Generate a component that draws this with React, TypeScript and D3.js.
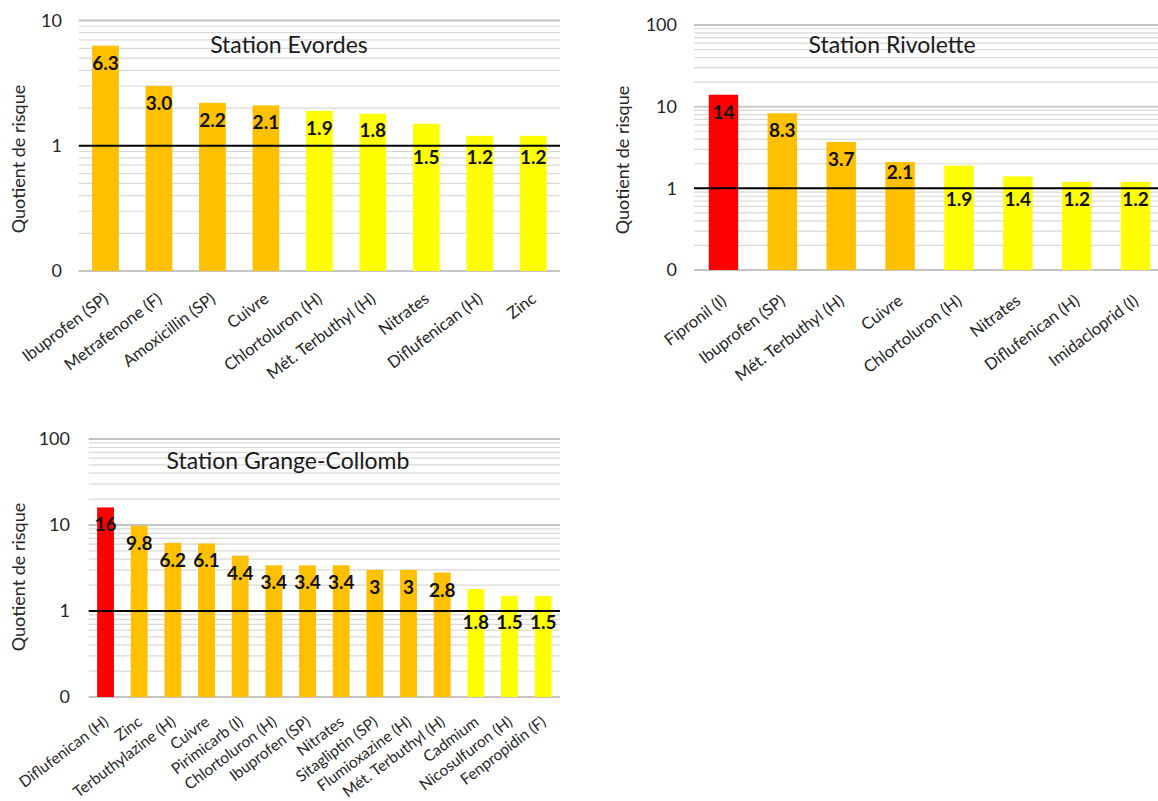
import React from 'react';
import * as d3 from 'd3';

// Station Evordes
const evordesCategories = [
  'Ibuprofen (SP)', 'Metrafenone (F)', 'Amoxicillin (SP)', 'Cuivre', 'Chlortoluron (H)',
  'Mét. Terbuthyl (H)', 'Nitrates', 'Diflufenican (H)', 'Zinc',
];
const evordesValues = [6.3, 3.0, 2.2, 2.1, 1.9, 1.8, 1.5, 1.2, 1.2];

// Station Rivolette
const rivoletteCategories = [
  'Fipronil (I)', 'Ibuprofen (SP)', 'Mét. Terbuthyl (H)', 'Cuivre', 'Chlortoluron (H)',
  'Nitrates', 'Diflufenican (H)', 'Imidacloprid (I)',
];
const rivoletteValues = [14, 8.3, 3.7, 2.1, 1.9, 1.4, 1.2, 1.2];

// Station Grange-Collomb
const grangeCategories = [
  'Diflufenican (H)', 'Zinc', 'Terbuthylazine (H)', 'Cuivre', 'Pirimicarb (I)', 'Chlortoluron (H)',
  'Ibuprofen (SP)', 'Nitrates', 'Sitagliptin (SP)', 'Flumioxazine (H)', 'Mét. Terbuthyl (H)',
  'Cadmium', 'Nicosulfuron (H)', 'Fenpropidin (F)',
];
const grangeValues = [16, 9.8, 6.2, 6.1, 4.4, 3.4, 3.4, 3.4, 3, 3, 2.8, 1.8, 1.5, 1.5];

// Axis decades; the lowest one is printed as "0"
const decadeTicks = [0.1, 1, 10, 100];
const tickText = (v: number) => (v < 1 ? '0' : String(v));
const axisTitle = 'Quotient de risque';

// Risk classes: < 2 yellow, 2–10 orange, >= 10 red
const riskColor = d3
  .scaleThreshold<number, string>()
  .domain([2, 10])
  .range(['#FFFF00', '#FFC000', '#FF0000']);

const FONT = 'Lato, "Open Sans", sans-serif';
const VALUE_SIZE = 19;
const VALUE_HEIGHT = 14;
const LABEL_ANGLE = -37;
const TEXT_COLOR = '#262626';

type PanelProps = {
  title: string;
  categories: string[];
  values: number[];
  fmt: (v: number) => string;
  yMax: number;
  x0: number;
  x1: number;
  yBottom: number;
  yTop: number;
  titleX: number;
  titleY: number;
  axisTitleX: number;
  axisTitleY: number;
  tickRightX: number;
  labelGap: number;
  labelSize: number;
};

function Panel(p: PanelProps) {
  const x = d3.scaleBand<string>().domain(p.categories).range([p.x0, p.x1]).paddingInner(0.5).paddingOuter(0.25);
  const y = d3.scaleLog().domain([0.1, p.yMax]).range([p.yBottom, p.yTop]);

  const decades = decadeTicks.filter((d) => d <= p.yMax);
  const minor: number[] = [];
  decades.slice(0, -1).forEach((d) => {
    for (let k = 2; k <= 9; k++) minor.push(k * d);
  });
  const majors = decades.filter((d) => d !== 0.1 && d !== 1);
  const yOne = y(1);

  // Value label baseline: inside the bar end, kept clear of the threshold line at 1
  const valueBaseline = (v: number) => {
    const top = y(v);
    const natural = top + 24;
    const limit = yOne - 9;
    if (natural <= limit) return natural;
    if (limit - VALUE_HEIGHT >= top) return limit;
    return yOne + 18;
  };

  return (
    <g>
      {minor.map((v) => (
        <line key={'m' + v} x1={p.x0} x2={p.x1} y1={y(v)} y2={y(v)} stroke="#d9d9d9" strokeWidth={1.2} />
      ))}
      {majors.map((v) => (
        <line key={'M' + v} x1={p.x0} x2={p.x1} y1={y(v)} y2={y(v)} stroke="#c4c4c4" strokeWidth={1.8} />
      ))}
      <line x1={p.x0} x2={p.x1} y1={y(0.1)} y2={y(0.1)} stroke="#c4c4c4" strokeWidth={2} />

      {p.categories.map((c, i) => (
        <rect
          key={'b' + i}
          x={x(c)}
          y={y(p.values[i])}
          width={x.bandwidth()}
          height={y(0.1) - y(p.values[i])}
          fill={riskColor(p.values[i])}
        />
      ))}

      <line x1={p.x0} x2={p.x1} y1={yOne} y2={yOne} stroke="#000" strokeWidth={2} />

      {p.categories.map((c, i) => (
        <text
          key={'v' + i}
          x={(x(c) as number) + x.bandwidth() / 2}
          y={valueBaseline(p.values[i])}
          textAnchor="middle"
          fontFamily={FONT}
          fontWeight={700}
          fontSize={VALUE_SIZE}
          fill="#111"
        >
          {p.fmt(p.values[i])}
        </text>
      ))}

      {decades.map((v) => (
        <text
          key={'t' + v}
          x={p.tickRightX}
          y={y(v)}
          dy="0.35em"
          textAnchor="end"
          fontFamily={FONT}
          fontSize={18}
          fill={TEXT_COLOR}
        >
          {tickText(v)}
        </text>
      ))}

      {p.categories.map((c, i) => {
        const cx = (x(c) as number) + x.bandwidth() / 2 + 4;
        const cy = p.yBottom + p.labelGap;
        return (
          <text
            key={'c' + i}
            transform={`translate(${cx},${cy}) rotate(${LABEL_ANGLE})`}
            textAnchor="end"
            fontFamily={FONT}
            fontSize={p.labelSize}
            fill={TEXT_COLOR}
          >
            {c}
          </text>
        );
      })}

      <text
        transform={`translate(${p.axisTitleX},${p.axisTitleY}) rotate(-90)`}
        textAnchor="middle"
        dy="0.35em"
        fontFamily={FONT}
        fontSize={18}
        fill={TEXT_COLOR}
      >
        {axisTitle}
      </text>

      <text x={p.titleX} y={p.titleY} textAnchor="middle" fontFamily={FONT} fontSize={23} fill="#1a1a1a">
        {p.title}
      </text>
    </g>
  );
}

const fmtFixed = d3.format('.1f');
const fmtPlain = (v: number) => String(v);

export default function App() {
  return (
    <svg
      width={1158}
      height={801}
      style={{ position: 'absolute', left: 0, top: 0, background: '#fff', display: 'block' }}
    >
      <rect width={1158} height={801} fill="#fff" />
      <Panel
        title="Station Evordes"
        categories={evordesCategories}
        values={evordesValues}
        fmt={fmtFixed}
        yMax={10}
        x0={78.75}
        x1={560}
        yBottom={271}
        yTop={20.5}
        titleX={289}
        titleY={53}
        axisTitleX={19}
        axisTitleY={159}
        tickRightX={62}
        labelGap={30}
        labelSize={16.5}
      />
      <Panel
        title="Station Rivolette"
        categories={rivoletteCategories}
        values={rivoletteValues}
        fmt={fmtPlain}
        yMax={100}
        x0={694}
        x1={1165}
        yBottom={270}
        yTop={25}
        titleX={892}
        titleY={53}
        axisTitleX={623}
        axisTitleY={160}
        tickRightX={677}
        labelGap={33}
        labelSize={16.5}
      />
      <Panel
        title="Station Grange-Collomb"
        categories={grangeCategories}
        values={grangeValues}
        fmt={fmtPlain}
        yMax={100}
        x0={88.7}
        x1={560}
        yBottom={697}
        yTop={439}
        titleX={288}
        titleY={469}
        axisTitleX={19}
        axisTitleY={577}
        tickRightX={70}
        labelGap={27}
        labelSize={15.5}
      />
    </svg>
  );
}
